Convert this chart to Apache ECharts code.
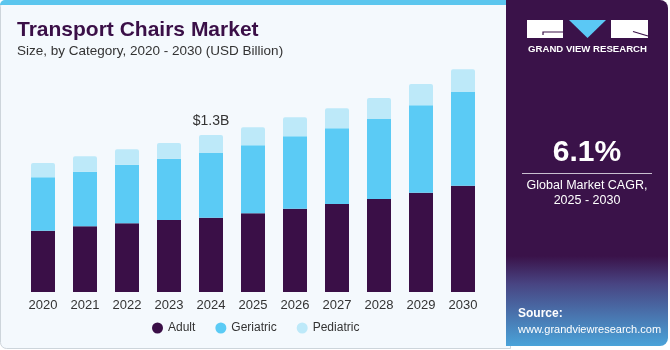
<!DOCTYPE html>
<html>
<head>
<meta charset="utf-8">
<script src="https://cdn.jsdelivr.net/npm/echarts@6/dist/echarts.min.js"></script>
<style>
html,body{margin:0;padding:0;background:#ffffff;}
#chart{width:670px;height:350px;}
</style>
</head>
<body>
<div id="chart"></div>
<script>
const categories = ['2020','2021','2022','2023','2024','2025','2026','2027','2028','2029','2030'];
const adult     = [0.508,0.544,0.569,0.596,0.615,0.652,0.690,0.729,0.770,0.822,0.880];
const geriatric = [0.442,0.452,0.485,0.508,0.536,0.563,0.600,0.627,0.662,0.724,0.776];
const pediatric = [0.118,0.128,0.128,0.130,0.149,0.149,0.157,0.166,0.174,0.176,0.188];
const seriesNames = ['Adult','Geriatric','Pediatric'];
const colors = ['#3A0F47','#5BCBF5','#BDE9F9'];
const annotation = {index: 4, text: '$1.3B'};

const FONT = 'Liberation Sans, Arial, sans-serif';
const chart = echarts.init(document.getElementById('chart'), null, {renderer: 'canvas'});

const pedData = pediatric.map((v, i) => i === annotation.index ? {
  value: v,
  label: {show: true, position: 'top', distance: 7, formatter: annotation.text,
          color: '#333333', fontSize: 14, fontFamily: FONT}
} : v);

const option = {
  animation: false,
  backgroundColor: '#ffffff',
  graphic: [
    {type: 'rect', z: -10, shape: {x: 0.5, y: 0.5, width: 510, height: 348, r: [6,0,0,6]},
     style: {fill: '#F4F9FD', stroke: '#CDD5DB', lineWidth: 1}},
    {type: 'rect', z: -9, shape: {x: 0, y: 0, width: 510, height: 5, r: [5,0,0,0]},
     style: {fill: '#5BC6EE'}},
    {type: 'rect', z: -8, shape: {x: 506, y: 0, width: 162, height: 346, r: [0,8,8,0]},
     style: {fill: {type: 'linear', x: 0, y: 0, x2: 0, y2: 1, colorStops: [
       {offset: 0, color: '#3A1249'},
       {offset: 0.74, color: '#3A1249'},
       {offset: 0.82, color: '#484482'},
       {offset: 1, color: '#4AA3D9'}]}}},
    // logo
    {type: 'rect', shape: {x: 527, y: 20, width: 36, height: 18}, style: {fill: '#ffffff'}},
    {type: 'polyline', shape: {points: [[563,32],[543,32],[543,35]]}, style: {stroke: '#3A1249', lineWidth: 1.2, fill: null}},
    {type: 'polygon', shape: {points: [[569,20],[606,20],[587.5,38]]}, style: {fill: '#5BC8F5'}},
    {type: 'rect', shape: {x: 611, y: 20, width: 37, height: 18}, style: {fill: '#ffffff'}},
    {type: 'line', shape: {x1: 633, y1: 31.5, x2: 648, y2: 36}, style: {stroke: '#3A1249', lineWidth: 1.2}},
    {type: 'text', style: {x: 587.5, y: 54, text: 'GRAND VIEW RESEARCH', fill: '#ffffff',
      font: 'bold 9.6px ' + FONT, textAlign: 'center', textVerticalAlign: 'bottom'}},
    // CAGR
    {type: 'text', style: {x: 587, y: 168, text: '6.1%', fill: '#ffffff',
      font: 'bold 30px ' + FONT, textAlign: 'center', textVerticalAlign: 'bottom'}},
    {type: 'line', shape: {x1: 522, y1: 173.5, x2: 652, y2: 173.5}, style: {stroke: '#C9BFD0', lineWidth: 1}},
    {type: 'text', style: {x: 587, y: 192, text: 'Global Market CAGR,', fill: '#ffffff',
      font: '12.5px ' + FONT, textAlign: 'center', textVerticalAlign: 'bottom'}},
    {type: 'text', style: {x: 587, y: 207, text: '2025 - 2030', fill: '#ffffff',
      font: '12.5px ' + FONT, textAlign: 'center', textVerticalAlign: 'bottom'}},
    // source
    {type: 'text', style: {x: 518, y: 320, text: 'Source:', fill: '#ffffff',
      font: 'bold 12px ' + FONT, textVerticalAlign: 'bottom'}},
    {type: 'text', style: {x: 518, y: 335, text: 'www.grandviewresearch.com', fill: '#ffffff',
      font: '11px ' + FONT, textVerticalAlign: 'bottom'}}
  ],
  title: {
    text: 'Transport Chairs Market',
    subtext: 'Size, by Category, 2020 - 2030 (USD Billion)',
    left: 12, top: 15, itemGap: 3,
    textStyle: {color: '#3A0F47', fontSize: 21, fontWeight: 900, fontFamily: FONT},
    subtextStyle: {color: '#333333', fontSize: 13.5, fontFamily: FONT}
  },
  legend: {
    data: seriesNames,
    bottom: 11, left: 147,
    icon: 'circle', itemWidth: 11, itemHeight: 11, itemGap: 20,
    textStyle: {color: '#333333', fontSize: 12, fontFamily: FONT}
  },
  grid: {left: 22, width: 462, top: 50.5, bottom: 58, containLabel: false},
  xAxis: {
    type: 'category', data: categories,
    axisLine: {show: false}, axisTick: {show: false},
    axisLabel: {color: '#333333', fontSize: 13, fontFamily: FONT, margin: 7}
  },
  yAxis: {type: 'value', min: 0, max: 2.0, show: false, splitLine: {show: false}},
  series: [
    {name: seriesNames[0], type: 'bar', stack: 'total', data: adult, barWidth: 24,
     itemStyle: {color: colors[0]}},
    {name: seriesNames[1], type: 'bar', stack: 'total', data: geriatric, barWidth: 24,
     itemStyle: {color: colors[1]}},
    {name: seriesNames[2], type: 'bar', stack: 'total', data: pedData, barWidth: 24,
     itemStyle: {color: colors[2], borderRadius: [2,2,0,0]}}
  ]
};
chart.setOption(option);
</script>
</body>
</html>
